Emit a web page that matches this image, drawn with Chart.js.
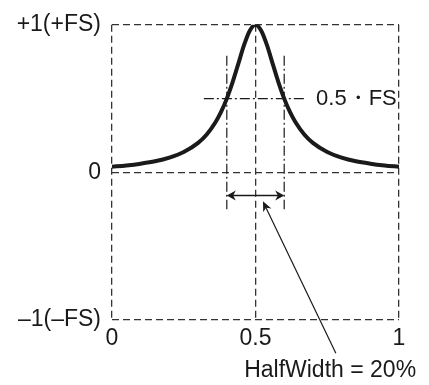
<!DOCTYPE html>
<html>
<head>
<meta charset="utf-8">
<script src="https://cdn.jsdelivr.net/npm/chart.js@4"></script>
<style>
  body { margin: 0; background: #fff; }
  canvas { display: block; }
</style>
</head>
<body>
<canvas id="chart" width="429" height="385"></canvas>
<script>
    // response curve
    const curveX = [0, 0.05, 0.1, 0.15, 0.2, 0.25, 0.3, 0.33, 0.36, 0.38, 0.4, 0.42, 0.44, 0.46, 0.48, 0.5,
                    0.52, 0.54, 0.56, 0.58, 0.6, 0.62, 0.64, 0.67, 0.7, 0.75, 0.8, 0.85, 0.9, 0.95, 1];
    const curveY = [0.038, 0.047, 0.059, 0.075, 0.10, 0.138, 0.20, 0.257, 0.338, 0.41, 0.50, 0.61, 0.735, 0.862, 0.96, 1.0,
                    0.96, 0.862, 0.735, 0.61, 0.50, 0.41, 0.338, 0.257, 0.20, 0.138, 0.10, 0.075, 0.059, 0.047, 0.038];

    const xTicks = [0, 0.5, 1];
    const xTickLabels = ["0", "0.5", "1"];
    const yTicks = [-1, 0, 1];
    const yTickLabels = ["–1(–FS)", "0", "+1(+FS)"];

    // half width markers
    const halfLevel = 0.5;
    const halfLeft = 0.4;
    const halfRight = 0.6;
    const markerTop = 0.79;
    const markerBottom = -0.25;
    const levelFrom = 0.32;
    const levelTo = 0.672;
    const arrowY = -0.156;
    const leaderFrom = [0.78, -1.226];
    const leaderTo = [0.526, -0.196];

    const levelLabel = "0.5・FS";
    const widthLabel = "HalfWidth = 20%";

    const FONT = "Arial, 'Liberation Sans', sans-serif";
    const INK = "#1a1a1a";
    const dashDot = [10, 3, 2, 3];

    function pts(xs, ys) {
        return xs.map((x, i) => ({ x: x, y: ys[i] }));
    }

    function arrowHead(ctx, tx, ty, fx, fy, len, half) {
        let a = Math.atan2(ty - fy, tx - fx);
        ctx.beginPath();
        ctx.moveTo(tx, ty);
        ctx.lineTo(tx - len * Math.cos(a) + half * Math.sin(a), ty - len * Math.sin(a) - half * Math.cos(a));
        ctx.lineTo(tx - len * 0.7 * Math.cos(a), ty - len * 0.7 * Math.sin(a));
        ctx.lineTo(tx - len * Math.cos(a) - half * Math.sin(a), ty - len * Math.sin(a) + half * Math.cos(a));
        ctx.closePath();
        ctx.fill();
    }

    const annotations = {
        id: "annotations",
        afterDatasetsDraw(chart) {
            let ctx = chart.ctx;
            let xs = chart.scales.x, ys = chart.scales.y;
            ctx.save();
            ctx.strokeStyle = INK;
            ctx.fillStyle = INK;

            // double arrow between the half width markers
            let ay = ys.getPixelForValue(arrowY);
            let l = xs.getPixelForValue(halfLeft), r = xs.getPixelForValue(halfRight);
            ctx.lineWidth = 1.5;
            ctx.beginPath();
            ctx.moveTo(l + 4, ay);
            ctx.lineTo(r - 4, ay);
            ctx.stroke();
            arrowHead(ctx, l, ay, r, ay, 9, 5);
            arrowHead(ctx, r, ay, l, ay, 9, 5);

            // leader line to the label
            let fx = xs.getPixelForValue(leaderFrom[0]), fy = ys.getPixelForValue(leaderFrom[1]);
            let tx = xs.getPixelForValue(leaderTo[0]), ty = ys.getPixelForValue(leaderTo[1]);
            ctx.lineWidth = 1.2;
            ctx.beginPath();
            ctx.moveTo(fx, fy);
            ctx.lineTo(tx + (fx - tx) * 0.04, ty + (fy - ty) * 0.04);
            ctx.stroke();
            arrowHead(ctx, tx, ty, fx, fy, 10, 4.5);

            ctx.font = "22px " + FONT;
            ctx.textBaseline = "middle";
            ctx.textAlign = "left";
            ctx.fillText(levelLabel, xs.getPixelForValue(0.711), ys.getPixelForValue(halfLevel));
            ctx.font = "23px " + FONT;
            ctx.textAlign = "center";
            ctx.fillText(widthLabel, xs.getPixelForValue(0.76), ys.getPixelForValue(-1.34));
            ctx.restore();
        }
    };

    new Chart(document.getElementById("chart"), {
        type: "scatter",
        data: {
            datasets: [
                {
                    data: pts(curveX, curveY),
                    showLine: true,
                    borderColor: INK,
                    borderWidth: 4,
                    pointRadius: 0,
                    cubicInterpolationMode: "monotone",
                    order: 0
                },
                {
                    data: pts([halfLeft, halfLeft], [markerTop, markerBottom]),
                    showLine: true, borderColor: INK, borderWidth: 1.2, borderDash: dashDot, pointRadius: 0, order: 1
                },
                {
                    data: pts([halfRight, halfRight], [markerTop, markerBottom]),
                    showLine: true, borderColor: INK, borderWidth: 1.2, borderDash: dashDot, pointRadius: 0, order: 1
                },
                {
                    data: pts([levelFrom, levelTo], [halfLevel, halfLevel]),
                    showLine: true, borderColor: INK, borderWidth: 1.2, borderDash: dashDot, pointRadius: 0, order: 1
                }
            ]
        },
        options: {
            responsive: false,
            animation: false,
            layout: { padding: { left: 0, right: 30, top: 19, bottom: 0 } },
            plugins: { legend: { display: false }, tooltip: { enabled: false } },
            scales: {
                x: {
                    type: "linear",
                    min: 0,
                    max: 1,
                    afterBuildTicks: s => { s.ticks = xTicks.map(v => ({ value: v })); },
                    afterFit: s => { s.height = 65; },
                    ticks: {
                        color: INK,
                        font: { size: 23, family: FONT },
                        padding: 5,
                        maxRotation: 0,
                        callback: v => xTickLabels[xTicks.indexOf(v)]
                    },
                    grid: { color: "#333", lineWidth: 1.3, drawTicks: false },
                    border: { display: false, dash: [7, 4] }
                },
                y: {
                    type: "linear",
                    min: -1,
                    max: 1,
                    afterBuildTicks: s => { s.ticks = yTicks.map(v => ({ value: v })); },
                    afterFit: s => { s.width = 112; },
                    ticks: {
                        color: INK,
                        font: { size: 23, family: FONT },
                        padding: 11,
                        callback: v => yTickLabels[yTicks.indexOf(v)]
                    },
                    grid: { color: "#333", lineWidth: 1.3, drawTicks: false },
                    border: { display: false, dash: [7, 4] }
                }
            }
        },
        plugins: [annotations]
    });
</script>
</body>
</html>
